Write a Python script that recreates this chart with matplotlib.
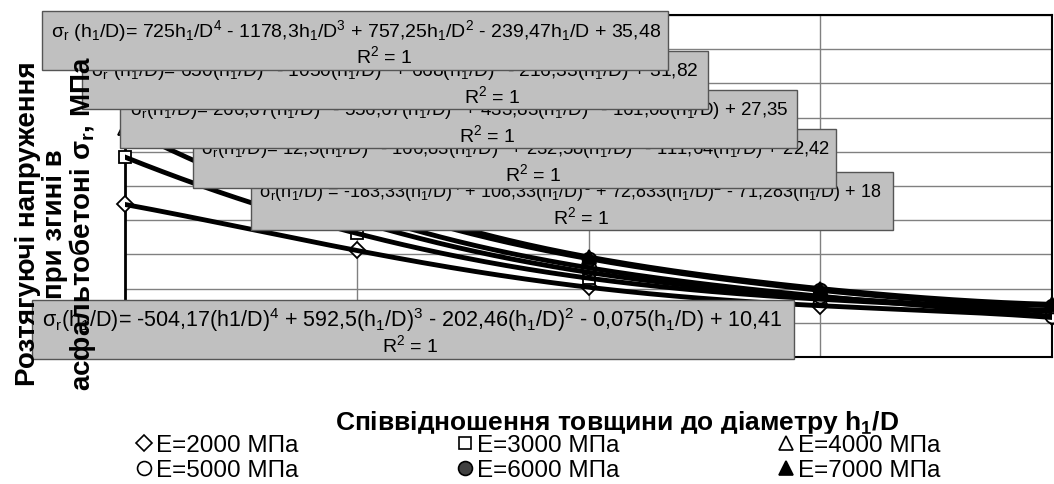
import numpy as np
import matplotlib.pyplot as plt
from matplotlib.patches import Rectangle
from matplotlib.lines import Line2D

plt.rcParams['font.family'] = ['Liberation Sans', 'DejaVu Sans']
plt.rcParams['mathtext.fontset'] = 'custom'
plt.rcParams['mathtext.rm'] = 'Liberation Sans'
plt.rcParams['mathtext.it'] = 'Liberation Sans:italic'
plt.rcParams['mathtext.bf'] = 'Liberation Sans:bold'
plt.rcParams['mathtext.default'] = 'regular'

# h1/D values and stresses (MPa) for each modulus
h_d = [0.1, 0.2, 0.3, 0.4, 0.5]
s_2000 = [8.92, 6.23, 4.08, 3.00, 2.31]
s_3000 = [11.69, 7.23, 4.61, 3.38, 2.65]
s_4000 = [13.42, 7.96, 4.95, 3.50, 2.70]
s_5000 = [15.06, 8.47, 5.22, 3.55, 2.38]
s_6000 = [16.67, 9.25, 5.75, 3.90, 3.00]
s_7000 = [18.00, 9.61, 5.85, 4.00, 3.08]
series = [s_2000, s_3000, s_4000, s_5000, s_6000, s_7000]
labels = ['E=2000 МПа', 'E=3000 МПа', 'E=4000 МПа',
          'E=5000 МПа', 'E=6000 МПа', 'E=7000 МПа']

# trendline labels, top box first (E=7000 ... E=2000)
eq_text = [
    r'$\sigma_r$ (h$_1$/D)= 725h$_1$/D$^4$ - 1178,3h$_1$/D$^3$ + 757,25h$_1$/D$^2$ - 239,47h$_1$/D + 35,48',
    r'$\sigma_r$ (h$_1$/D)= 650(h$_1$/D)$^4$ - 1050(h$_1$/D)$^3$ + 668(h$_1$/D)$^2$ - 216,33(h$_1$/D) + 31,82',
    r'$\sigma_r$(h$_1$/D)= 266,67(h$_1$/D)$^4$ - 556,67(h$_1$/D)$^3$ + 433,83(h$_1$/D)$^2$ - 161,08(h$_1$/D) + 27,35',
    r'$\sigma_r$(h$_1$/D)= 12,5(h$_1$/D)$^4$ - 166,83(h$_1$/D)$^3$ + 232,58(h$_1$/D)$^2$ - 111,64(h$_1$/D) + 22,42',
    r'$\sigma_r$(h$_1$/D) = -183,33(h$_1$/D)$^4$ + 108,33(h$_1$/D)$^3$ + 72,833(h$_1$/D)$^2$ - 71,283(h$_1$/D) + 18',
    r'$\sigma_r$(h$_1$/D)= -504,17(h1/D)$^4$ + 592,5(h$_1$/D)$^3$ - 202,46(h$_1$/D)$^2$ - 0,075(h$_1$/D) + 10,41',
]
r2_text = 'R$^2$ = 1'

# box geometry in pixels (left, top, right, bottom), text spans, R2 centres
boxes = [(42, 11, 668, 70), (82, 51, 708, 109), (120, 90, 797, 148),
         (193, 129, 836, 188), (251, 172, 893, 230), (32, 300, 794, 359)]
eq_span = [(50, 662), (90, 700), (128, 790), (200, 830), (258, 883), (40, 784)]
r2_cx = [384, 492, 487, 533, 581, 410]

styles = [
    dict(marker='D', mfc='white', ms=8),
    dict(marker='s', mfc='white', ms=9),
    dict(marker='^', mfc='white', ms=10),
    dict(marker='o', mfc='white', ms=10),
    dict(marker='o', mfc='#404040', ms=10),
    dict(marker='^', mfc='black', ms=10),
]

W, H = 1054, 484
fig = plt.figure(figsize=(W / 100, H / 100), dpi=100)
ax = fig.add_axes([125 / W, 127 / H, 927 / W, 342 / H])

xs = np.linspace(h_d[0], h_d[-1], 300)
for s, st in zip(series, styles):
    ax.plot(h_d, s, linestyle='none', mec='black', mew=1.3, zorder=3,
            clip_on=False, **st)
    coef = np.polyfit(h_d, s, 4)
    ax.plot(xs, np.polyval(coef, xs), color='black', lw=3.5, zorder=4)

ax.set_xlim(0.1, 0.5)
ax.set_ylim(0, 20)
ax.set_xticks(np.arange(0.1, 0.51, 0.1))
ax.set_yticks(np.arange(0, 21, 2))
ax.grid(True, color='#808080', lw=1)
ax.tick_params(length=0, labelleft=False, labelbottom=False)
for sp in ax.spines.values():
    sp.set_color('black')
    sp.set_linewidth(1.5)
ax.spines['left'].set_linewidth(2)

# trendline label boxes
renderer = fig.canvas.get_renderer()
for i, (l, t, r, b) in enumerate(boxes):
    z = 20 - i
    fig.add_artist(Rectangle((l / W, 1 - b / H), (r - l) / W, (b - t) / H,
                             transform=fig.transFigure, facecolor='#c0c0c0',
                             edgecolor='#555555', lw=1, zorder=z))
    x0, x1 = eq_span[i]
    eq = fig.text((x0 + x1) / 2 / W, 1 - (t + 20) / H, eq_text[i], fontsize=14,
                  ha='center', va='center', zorder=z + 0.5)
    wpx = eq.get_window_extent(renderer).width
    eq.set_fontsize(14 * (x1 - x0) / wpx)
    fig.text(r2_cx[i] / W, 1 - (t + 45) / H, r2_text, fontsize=14,
             ha='center', va='center', zorder=z + 0.5)

fig.text(57 / W, 1 - 224 / H,
         'Розтягуючі напруження\nпри згині в\nасфальтобетоні σ$_r$, МПа',
         rotation=90, ha='center', va='center', multialignment='center',
         fontsize=20, fontweight='bold', linespacing=1.0, zorder=30)

fig.text(617 / W, 1 - 423 / H, 'Співвідношення товщини до діаметру h$_1$/D',
         ha='center', va='center', fontsize=19, fontweight='bold', zorder=4)

handles = [Line2D([], [], linestyle='none', mec='black', mew=1.2, **st)
           for st in styles]
order = [0, 3, 1, 4, 2, 5]
leg = fig.legend([handles[i] for i in order], [labels[i] for i in order],
                 ncol=3, loc='lower left', bbox_to_anchor=(137 / W, 1 / H),
                 frameon=True, facecolor='white', edgecolor='white',
                 framealpha=1, fancybox=False, borderpad=0.05,
                 borderaxespad=0, handlelength=0.5, handletextpad=0.25,
                 columnspacing=6.6, labelspacing=0.12, fontsize=17.5)
leg.set_zorder(6)

fig.savefig('out.png', dpi=100)
